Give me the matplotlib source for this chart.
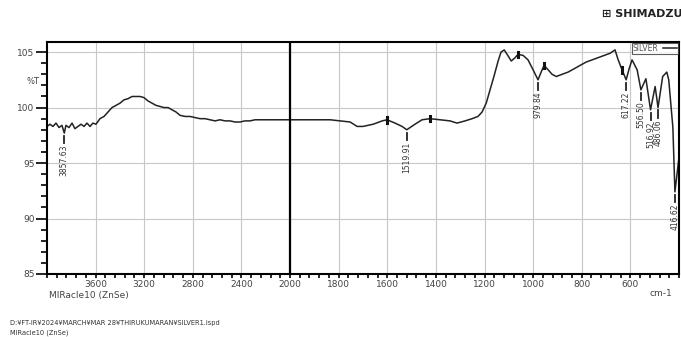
import numpy as np
import matplotlib
matplotlib.use('Agg')
import matplotlib.pyplot as plt
from matplotlib.ticker import FixedLocator, MultipleLocator, NullFormatter

# FT-IR spectrum of the SILVER sample
wavenumber = [4000, 3975, 3951, 3926, 3901, 3877, 3857.63, 3844, 3819, 3794, 3770, 3745,
              3720, 3695, 3671, 3646, 3622, 3597, 3564, 3531, 3498, 3465, 3432, 3399,
              3366, 3333, 3300, 3267, 3235, 3202, 3169, 3136, 3103, 3070, 3037, 3004,
              2971, 2938, 2905, 2864, 2823, 2782, 2741, 2700, 2659, 2617, 2576, 2535,
              2494, 2453, 2412, 2371, 2330, 2288, 2247, 2206, 2165, 2082, 2000,
              1959, 1897, 1835, 1794, 1753, 1724, 1700, 1658, 1621, 1601, 1568, 1539,
              1519.91, 1486, 1457, 1424, 1383, 1342, 1313, 1280, 1251, 1227, 1210, 1193,
              1177, 1160, 1144, 1132, 1119, 1107, 1090, 1074, 1062, 1041, 1021, 1000,
              979.84, 967, 955, 938, 922, 905, 881, 856, 831, 807, 782, 757, 733, 708,
              683, 663, 650, 634, 617.22, 605, 593, 572, 556.50, 536, 516.92, 498,
              486.06, 467, 450, 442, 425, 416.62, 400]
transmittance = [98.3, 98.5, 98.3, 98.6, 98.2, 98.4, 97.7, 98.4, 98.2, 98.6, 98.1, 98.3,
                 98.5, 98.3, 98.6, 98.3, 98.6, 98.5, 99.0, 99.2, 99.6, 100.0, 100.2, 100.4,
                 100.7, 100.8, 101.0, 101.0, 101.0, 100.9, 100.6, 100.4, 100.2, 100.1, 100.0, 100.0,
                 99.8, 99.6, 99.3, 99.2, 99.2, 99.1, 99.0, 99.0, 98.9, 98.8, 98.9, 98.8,
                 98.8, 98.7, 98.7, 98.8, 98.8, 98.9, 98.9, 98.9, 98.9, 98.9, 98.9,
                 98.9, 98.9, 98.9, 98.8, 98.7, 98.3, 98.3, 98.5, 98.8, 98.9, 98.6, 98.3,
                 98.0, 98.5, 98.9, 99.0, 98.9, 98.8, 98.6, 98.8, 99.0, 99.2, 99.6, 100.4,
                 101.6, 102.9, 104.2, 105.0, 105.2, 104.8, 104.2, 104.5, 104.8, 104.7, 104.3, 103.4,
                 102.5, 103.2, 103.8, 103.4, 103.0, 102.8, 103.0, 103.2, 103.5, 103.8, 104.1, 104.3, 104.5, 104.7,
                 104.9, 105.2, 104.3, 103.4, 102.5, 103.5, 104.3, 103.4, 101.6, 102.6, 99.8, 101.9,
                 100.0, 102.8, 103.2, 102.5, 98.2, 92.4, 95.5]

peak_wn = [3857.63, 1519.91, 979.84, 617.22, 556.50, 516.92, 486.06, 416.62]
peak_labels = ['3857.63', '1519.91', '979.84', '617.22', '556.50', '516.92', '486.06', '416.62']
marker_wn = [1601, 1424, 1062, 955, 634]

x_major = [3600, 3200, 2800, 2400, 2000, 1800, 1600, 1400, 1200, 1000, 800, 600]
y_major = [85, 90, 95, 100, 105]


# split scale: 4000-2000 compressed to half
def fwd(x):
    x = np.asarray(x, dtype=float)
    return np.where(x <= 2000, x, 2000 + (x - 2000) / 2)


def inv(u):
    u = np.asarray(u, dtype=float)
    return np.where(u <= 2000, u, 2000 + (u - 2000) * 2)


fig = plt.figure(figsize=(6.81, 3.37), dpi=100)
ax = fig.add_axes([0.069, 0.187, 0.928, 0.688])
ax.set_xscale('function', functions=(fwd, inv))

wn = np.array(wavenumber)
tr = np.array(transmittance)
ax.plot(wn, tr, color='#222222', lw=1.1, label='SILVER')

# peak picks
order = np.argsort(wn)
for p, lab in zip(peak_wn, peak_labels):
    t = np.interp(p, wn[order], tr[order])
    ax.plot([p, p], [t - 0.25, t - 0.9], color='#222222', lw=1.3)
    ax.text(p, t - 1.05, lab, rotation=90, ha='center', va='top', fontsize=5.5, color='#333333')
for m in marker_wn:
    t = np.interp(m, wn[order], tr[order])
    ax.plot([m, m], [t - 0.25, t + 0.25], color='#111111', lw=2.2)

ax.axvline(2000, color='black', lw=1.6)

ax.set_xlim(4000, 400)
ax.set_ylim(85, 105.9)
ax.xaxis.set_major_locator(FixedLocator(x_major))
ax.xaxis.set_minor_locator(FixedLocator(list(np.arange(4000, 2000, -80)) + list(np.arange(2000, 399, -40))))
ax.xaxis.set_minor_formatter(NullFormatter())
ax.yaxis.set_major_locator(FixedLocator(y_major))
ax.yaxis.set_minor_locator(MultipleLocator(1))
ax.set_xticklabels([str(v) for v in x_major])
ax.grid(True, which='major', color='#c8c8c8', lw=0.8)
ax.tick_params(axis='x', which='both', direction='out', length=3, width=1.2, labelsize=6.5,
               labelcolor='#444444', pad=1.5)
ax.tick_params(axis='y', which='major', direction='out', length=8, width=1.2, labelsize=6.5,
               labelcolor='#444444', pad=1)
ax.tick_params(axis='y', which='minor', direction='out', length=4, width=1.2)
for s in ax.spines.values():
    s.set_linewidth(1.5)

leg = ax.legend(loc='upper right', fontsize=5.5, frameon=True, fancybox=False, markerfirst=False,
                handlelength=1.8, borderaxespad=0.1, borderpad=0.15, handletextpad=0.6)
leg.get_frame().set_edgecolor('#333333')
leg.get_frame().set_linewidth(0.8)
for t in leg.get_texts():
    t.set_color('#555555')

fig.text(0.048, 0.757, '%T', fontsize=6, color='#444444', ha='center', va='center')
fig.text(0.072, 0.122, 'MIRacle10 (ZnSe)', fontsize=6.5, color='#444444', va='center')
fig.text(0.97, 0.128, 'cm-1', fontsize=6.5, color='#444444', va='center', ha='center')
fig.text(0.884, 0.958, '\u229e SHIMADZU', fontsize=8, fontweight='bold', color='#222222', va='center')
fig.text(0.015, 0.042, 'D:\u00a5FT-IR\u00a52024\u00a5MARCH\u00a5MAR 28\u00a5THIRUKUMARAN\u00a5SILVER1.ispd',
         fontsize=4.8, color='#333333', va='center')
fig.text(0.015, 0.012, 'MIRacle10 (ZnSe)', fontsize=4.8, color='#333333', va='center')

fig.savefig('out.png', dpi=100)
